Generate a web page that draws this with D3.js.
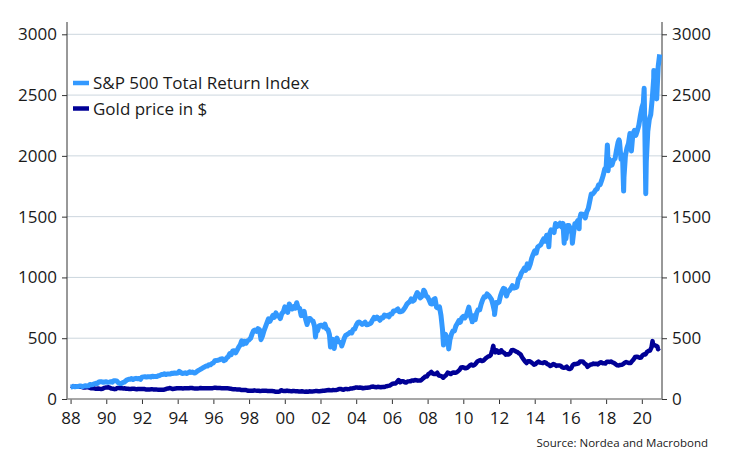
<!DOCTYPE html>
<html>
<head>
<meta charset="utf-8">
<script src="https://cdn.jsdelivr.net/npm/d3@7"></script>
<style>
body { margin: 0; background: #fff; }
text { font-family: "Open Sans", "Noto Sans", sans-serif; fill: #1a1a1a; }
</style>
</head>
<body>
<svg id="chart" width="729" height="463"></svg>
<script>
// S&P 500 total return index, rebased, end of month values 1988-01 .. 2020-12
const spxMonthly = [
  100,104,101,102,102,107,106,102,106,109,107,108,
  120,117,119,125,129,128,140,142,141,137,140,142,
  137,139,142,138,151,150,149,135,128,127,134,138,
  148,158,162,162,168,160,167,170,167,169,162,180,
  182,184,180,184,184,181,188,184,186,186,192,194,
  201,202,207,201,206,206,205,212,210,214,211,213,
  227,219,210,212,215,209,215,223,218,222,213,216,
  227,235,242,248,257,263,271,271,282,281,292,297,
  314,316,319,322,330,331,316,321,339,348,373,365,
  395,397,380,402,426,444,479,451,475,459,479,487,
  499,534,561,567,556,578,571,488,518,560,593,626,
  660,639,663,689,672,708,686,681,662,703,716,758,
  727,713,782,758,741,759,747,792,750,746,686,689,
  722,655,613,660,663,647,640,599,550,560,602,606,
  606,593,615,577,572,531,489,491,437,475,502,472,
  466,458,462,500,525,531,539,549,543,573,576,606,
  627,634,624,613,621,632,610,612,618,626,650,671,
  661,674,661,648,668,667,691,683,688,676,699,699,
  723,724,732,741,718,718,722,737,755,779,792,801,
  823,805,813,848,876,860,832,843,873,886,847,840,
  814,785,781,818,826,755,748,757,687,572,529,533,
  503,448,486,532,560,560,601,622,644,631,668,679,
  667,686,726,737,676,640,685,652,709,735,734,781,
  815,841,840,864,852,837,818,772,716,794,790,797,
  848,883,910,904,847,881,892,910,932,913,916,922,
  988,999,1035,1054,1076,1059,1112,1077,1109,1159,1191,1219,
  1199,1250,1259,1267,1294,1318,1299,1347,1326,1357,1391,1385,
  1369,1444,1419,1431,1446,1416,1444,1353,1318,1427,1427,1403,
  1358,1353,1442,1446,1468,1470,1522,1520,1518,1489,1540,1568,
  1627,1687,1686,1701,1721,1729,1763,1764,1798,1838,1890,1908,
  2054,1974,1921,1926,1967,1977,2048,2111,2119,1972,2007,1823,
  2004,2064,2101,2184,2040,2181,2209,2169,2207,2252,2328,2395,
  2435,2230,1951,2198,2298,2340,2469,2642,2539,2469,2734,2835
];
// intra-month highs and lows [year, value]
const spxExtra = [
  [1988.0, 98], [2001.72, 510], [2002.56, 427], [2002.77, 416], [2003.19, 436],
  [2007.78, 895], [2008.89, 444], [2009.18, 412], [2010.31, 756], [2010.5, 635],
  [2011.75, 696], [2014.79, 1252], [2015.65, 1282], [2016.11, 1281], [2016.49, 1400],
  [2018.07, 2090], [2018.11, 1877], [2018.72, 2132], [2018.98, 1710],
  [2020.13, 2556], [2020.22, 1689], [2020.67, 2703]
];

// Gold price in $, rebased, monthly averages 1988-01 .. 2020-12
const goldMonthly = [
  110,102,102,104,104,104,101,100,95,94,97,97,
  93,89,90,88,85,85,86,84,83,85,91,94,
  94,96,91,86,85,81,83,91,90,88,88,87,
  88,84,84,82,82,85,85,82,80,83,83,83,
  82,82,79,78,78,79,81,79,79,79,77,77,
  76,76,76,79,85,86,90,87,82,84,86,88,
  89,88,88,87,88,89,89,88,90,90,88,87,
  87,87,88,90,89,89,89,88,88,88,89,89,
  92,93,91,91,90,89,88,89,88,88,87,85,
  82,80,81,79,79,79,75,75,74,75,71,67,
  67,68,68,71,69,67,68,65,67,68,68,67,
  66,66,66,65,64,60,59,59,61,72,68,65,
  65,69,66,65,63,66,65,63,63,62,61,63,
  61,60,61,60,63,62,62,63,65,65,64,64,
  65,68,68,70,72,74,72,71,74,73,74,77,
  82,83,78,76,82,82,81,83,87,87,90,94,
  95,93,94,93,88,90,92,92,94,97,101,102,
  98,97,100,99,97,99,98,101,105,108,110,118,
  126,128,128,141,156,137,146,146,138,135,144,145,
  145,153,151,156,154,151,153,153,164,174,186,185,
  205,212,223,209,205,205,216,193,191,186,175,188,
  198,217,213,205,214,218,215,219,229,240,260,261,
  258,252,256,265,278,284,275,280,293,309,316,320,
  312,316,328,339,348,352,362,405,408,384,401,381,
  382,401,385,380,365,368,367,376,402,403,397,389,
  385,375,367,343,326,309,296,310,311,303,294,282,
  287,300,308,299,297,295,302,299,286,282,271,277,
  288,283,272,276,276,272,260,257,259,267,250,246,
  253,277,287,286,290,294,308,309,306,292,285,265,
  275,284,284,292,287,290,285,296,303,295,295,292,
  307,307,305,308,300,295,285,277,276,280,281,288,
  298,304,300,296,296,313,326,346,348,345,339,341,
  359,368,367,388,395,399,425,454,443,438,430,420
];
const goldExtra = [[2011.68, 437], [2020.6, 476], [2020.91, 409]];

const yTicks = [0, 500, 1000, 1500, 2000, 2500, 3000];
const xTicks = d3.range(1988, 2021, 2);
const seriesNames = ["S&P 500 Total Return Index", "Gold price in $"];
const colors = ["#3399ff", "#000096"];

const svg = d3.select("#chart");
const plotLeft = 67, plotRight = 662, plotTop = 34.3, plotBottom = 399;

const x = d3.scaleLinear().domain([1987.8, 2021.13]).range([plotLeft, plotRight]);
const y = d3.scaleLinear().domain([0, 3000]).range([plotBottom, plotTop]);

function toPoints(monthly, offset, extra) {
  let pts = monthly.map((v, i) => [1988 + (i + offset) / 12, v]);
  pts = pts.concat(extra);
  pts.sort((a, b) => a[0] - b[0]);
  return pts;
}
const spx = toPoints(spxMonthly, 1, spxExtra);
const gold = toPoints(goldMonthly, 0.5, goldExtra);

// gridlines
svg.append("g").selectAll("line")
  .data(yTicks.filter(d => d > 0))
  .join("line")
  .attr("x1", plotLeft).attr("x2", plotRight)
  .attr("y1", d => y(d)).attr("y2", d => y(d))
  .attr("stroke", "#ccd6de").attr("stroke-width", 1);

// axes
let yl = svg.append("g").attr("transform", `translate(${plotLeft},0)`)
  .call(d3.axisLeft(y).tickValues(yTicks).tickSize(5).tickPadding(5).tickFormat(d3.format("d")));
let yr = svg.append("g").attr("transform", `translate(${plotRight},0)`)
  .call(d3.axisRight(y).tickValues(yTicks).tickSize(5).tickPadding(5).tickFormat(d3.format("d")));
let xa = svg.append("g").attr("transform", `translate(0,${plotBottom})`)
  .call(d3.axisBottom(x).tickValues(xTicks).tickSize(5).tickPadding(8)
    .tickFormat(d => String(d % 100).padStart(2, "0")));

[yl, yr, xa].forEach(g => {
  g.select(".domain").remove();
  g.selectAll("line").attr("stroke", "#333");
  g.selectAll("text").attr("font-size", 17).attr("fill", "#1a1a1a")
    .style("font-family", '"Open Sans", sans-serif');
});

svg.append("line").attr("x1", plotLeft).attr("x2", plotLeft).attr("y1", 22).attr("y2", plotBottom)
  .attr("stroke", "#333");
svg.append("line").attr("x1", plotRight).attr("x2", plotRight).attr("y1", 22).attr("y2", plotBottom)
  .attr("stroke", "#333");
svg.append("line").attr("x1", plotLeft).attr("x2", plotRight).attr("y1", plotBottom).attr("y2", plotBottom)
  .attr("stroke", "#8a8a8a").attr("stroke-width", 1.5);

// lines
const line = d3.line().x(d => x(d[0])).y(d => y(d[1]));
svg.append("path").datum(gold)
  .attr("fill", "none").attr("stroke", colors[1]).attr("stroke-width", 4.5)
  .attr("stroke-linejoin", "round").attr("d", line);
svg.append("path").datum(spx)
  .attr("fill", "none").attr("stroke", colors[0]).attr("stroke-width", 5)
  .attr("stroke-linejoin", "round").attr("d", line);

// legend
const legend = svg.append("g").attr("transform", "translate(73,83)");
seriesNames.forEach((name, i) => {
  let g = legend.append("g").attr("transform", `translate(0,${i * 25.5})`);
  g.append("line").attr("x1", 0).attr("x2", 16).attr("y1", 0).attr("y2", 0)
    .attr("stroke", colors[i]).attr("stroke-width", 4.5);
  g.append("text").attr("x", 20).attr("y", 6).attr("font-size", 17).text(name);
});

svg.append("text").attr("x", 708).attr("y", 447).attr("text-anchor", "end")
  .attr("font-size", 11.5).text("Source: Nordea and Macrobond");
</script>
</body>
</html>
